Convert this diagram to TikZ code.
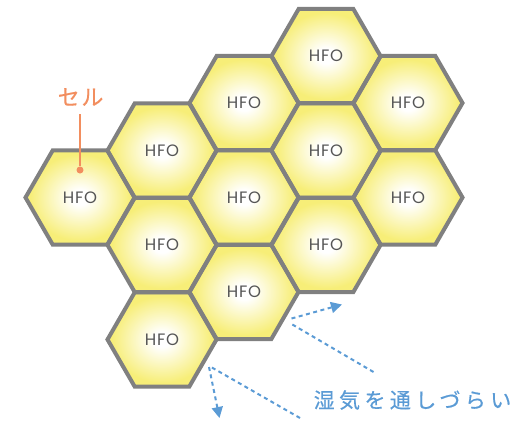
\documentclass[tikz,border=0pt]{standalone}
\usepackage{fontspec}
\usetikzlibrary{shapes.geometric,arrows.meta}
\newfontfamily\jpcell[LetterSpace=8,FakeBold=0.5]{Noto Sans CJK JP}
\newfontfamily\jpspaced[LetterSpace=21,FakeBold=0.5]{Noto Sans CJK JP}
\newfontfamily\hfofont[LetterSpace=5]{Poppins}
\definecolor{hexyellow}{RGB}{247,238,120}
\definecolor{hexgray}{RGB}{128,128,128}
\definecolor{textgray}{RGB}{85,85,85}
\definecolor{cellorange}{RGB}{242,142,95}
\definecolor{moistblue}{RGB}{91,155,213}
\pgfdeclareradialshading{hexshade}{\pgfpoint{0bp}{0bp}}{color(0bp)=(white); color(4bp)=(white); color(23bp)=(hexyellow); color(50bp)=(hexyellow)}
\begin{document}
\begin{tikzpicture}[x=1pt,y=-1pt,
  hexcell/.style={regular polygon, regular polygon sides=6, minimum size=109pt,
    inner sep=0pt, outer sep=0pt, shading=hexshade,
    font=\hfofont\fontsize{16.5}{16.5}\selectfont, text=textgray},
  hexborder/.style={draw=hexgray, line width=4pt, line join=miter},
  moist/.style={draw=moistblue, line width=2pt, dash pattern=on 4pt off 3.5pt},
  moistarrow/.style={moist, -{Triangle[length=11pt,width=11pt]}}
]
\useasboundingbox (0,0) rectangle (513,421);

\node[hexcell] (h00) at (80,197.5) {HFO};
\node[hexcell] (h10) at (162,150.5) {HFO};
\node[hexcell] (h11) at (162,245) {HFO};
\node[hexcell] (h12) at (162,339.5) {HFO};
\node[hexcell] (h20) at (244,103) {HFO};
\node[hexcell] (h21) at (244,197.5) {HFO};
\node[hexcell] (h22) at (244,292) {HFO};
\node[hexcell] (h30) at (326,56) {HFO};
\node[hexcell] (h31) at (326,150.5) {HFO};
\node[hexcell] (h32) at (326,245) {HFO};
\node[hexcell] (h40) at (408,103) {HFO};
\node[hexcell] (h41) at (408,197.5) {HFO};

\foreach \n in {h00,h10,h11,h12,h20,h21,h22,h30,h31,h32,h40,h41}{
  \draw[hexborder] (\n.corner 1) -- (\n.corner 2) -- (\n.corner 3) -- (\n.corner 4) -- (\n.corner 5) -- (\n.corner 6) -- cycle;
}

% cell label
\node[font=\jpcell\fontsize{22}{22}\selectfont, text=cellorange, anchor=west, inner sep=0pt] (cell) at (57.5,97) {セル};
\node[circle, fill=cellorange, minimum size=7pt, inner sep=0pt] (dot) at (80,170) {};
\coordinate (celltop) at (80,114);
\draw[cellorange, line width=1.5pt] (celltop) -- (dot);

% moisture arrows
\coordinate (a1s) at (291.5,318.5);
\coordinate (a1e) at (342,304.5);
\coordinate (l1s) at (373.5,372);
\coordinate (l1e) at (291.5,324);
\coordinate (a2s) at (209,367);
\coordinate (a2e) at (219.5,418);
\coordinate (l2s) at (300,418);
\coordinate (l2e) at (211,367);
\draw[moistarrow] (a1s) -- (a1e);
\draw[moist] (l1s) -- (l1e);
\draw[moistarrow] (a2s) -- (a2e);
\draw[moist] (l2s) -- (l2e);

\node[font=\jpspaced\fontsize{21}{21}\selectfont, text=moistblue, anchor=west, inner sep=0pt] (moisttext) at (313.5,400) {湿気を通しづらい};
\end{tikzpicture}
\end{document}
